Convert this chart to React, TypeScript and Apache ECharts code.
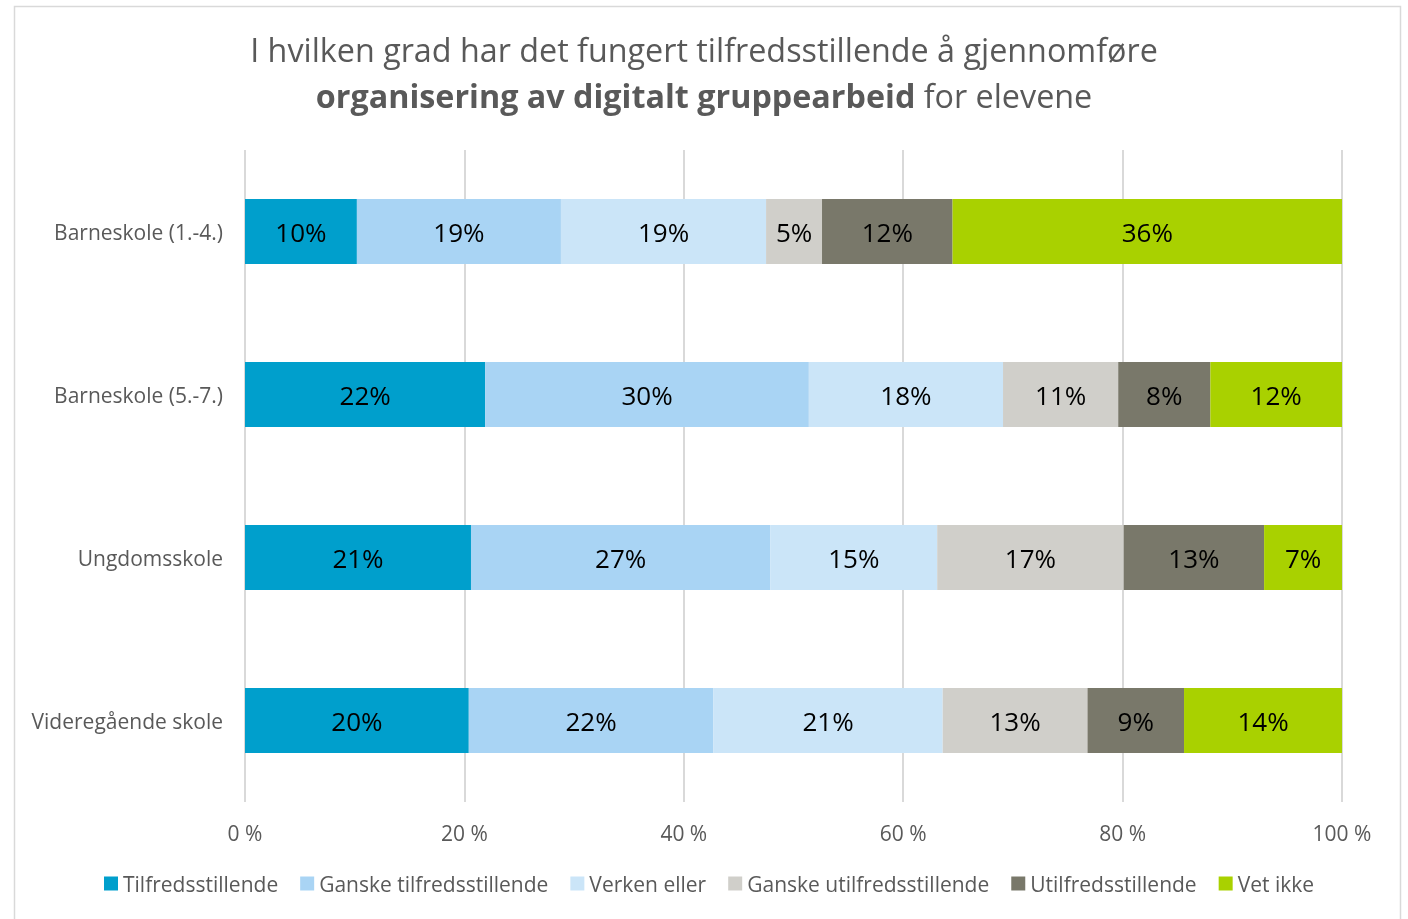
import React, { useEffect, useRef } from "react";
import * as echarts from "echarts";

const categories = ["Barneskole (1.-4.)", "Barneskole (5.-7.)", "Ungdomsskole", "Videregående skole"];
const seriesNames = [
  "Tilfredsstillende",
  "Ganske tilfredsstillende",
  "Verken eller",
  "Ganske utilfredsstillende",
  "Utilfredsstillende",
  "Vet ikke",
];
const tilfreds = [10.2, 21.9, 20.6, 20.4];
const ganskeTilfreds = [18.6, 29.5, 27.3, 22.3];
const verken = [18.7, 17.7, 15.2, 20.9];
const ganskeUtilfreds = [5.1, 10.5, 17.0, 13.2];
const utilfreds = [11.9, 8.4, 12.8, 8.8];
const vetIkke = [35.5, 12.0, 7.1, 14.4];
const colors = ["#009FCC", "#A9D4F4", "#CBE5F8", "#D0CFCA", "#79786A", "#A9D100"];

const FONT = "'Open Sans', sans-serif";

export default function App() {
  const ref = useRef<HTMLDivElement>(null);
  useEffect(() => {
    const chart = echarts.init(ref.current!, null, { renderer: "svg" });
    const values = [tilfreds, ganskeTilfreds, verken, ganskeUtilfreds, utilfreds, vetIkke];
    chart.setOption({
      animation: false,
      textStyle: { fontFamily: FONT },
      graphic: [
        {
          type: "rect",
          shape: { x: 14.5, y: 6.5, width: 1386, height: 940 },
          style: { fill: "none", stroke: "#D9D9D9", lineWidth: 1.5 },
          silent: true,
        },
      ],
      title: {
        left: "center",
        top: 21,
        text:
          "{n|I hvilken grad har det fungert tilfredsstillende å gjennomføre}\n{b|organisering av digitalt gruppearbeid}{n| for elevene}",
        textStyle: {
          fontWeight: "normal",
          rich: {
            n: { fontSize: 32.3, color: "#595959", fontFamily: FONT, fontWeight: "normal", lineHeight: 46 },
            b: { fontSize: 32.3, color: "#595959", fontFamily: FONT, fontWeight: "bold", lineHeight: 46 },
          },
        },
      },
      legend: {
        bottom: 20,
        left: 99,
        itemWidth: 14,
        itemHeight: 14,
        itemGap: 22,
        icon: "rect",
        textStyle: { fontSize: 21, color: "#595959", fontFamily: FONT, padding: [0, 0, 0, 0] },
        data: seriesNames,
      },
      grid: { left: 245, right: 66, top: 150, height: 652, containLabel: false },
      xAxis: {
        type: "value",
        min: 0,
        max: 100,
        interval: 20,
        axisLabel: { formatter: "{value} %", fontSize: 21, color: "#595959", margin: 20, fontFamily: FONT },
        splitLine: { show: true, lineStyle: { color: "#D9D9D9", width: 2 } },
        axisLine: { show: false },
        axisTick: { show: false },
      },
      yAxis: {
        type: "category",
        inverse: true,
        data: categories,
        axisLine: { show: false },
        axisTick: { show: false },
        axisLabel: { fontSize: 21, color: "#595959", margin: 22, fontFamily: FONT },
      },
      series: seriesNames.map((name, i) => ({
        name,
        type: "bar",
        stack: "total",
        barWidth: 65,
        data: values[i],
        itemStyle: { color: colors[i] },
        label: {
          show: true,
          position: "inside",
          color: "#000",
          fontSize: 26,
          fontFamily: FONT,
          formatter: (p: any) => Math.round(p.value) + "%",
        },
      })),
    });
    return () => chart.dispose();
  }, []);
  return <div ref={ref} style={{ position: "fixed", left: 0, top: 0, width: 1408, height: 919 }} />;
}
